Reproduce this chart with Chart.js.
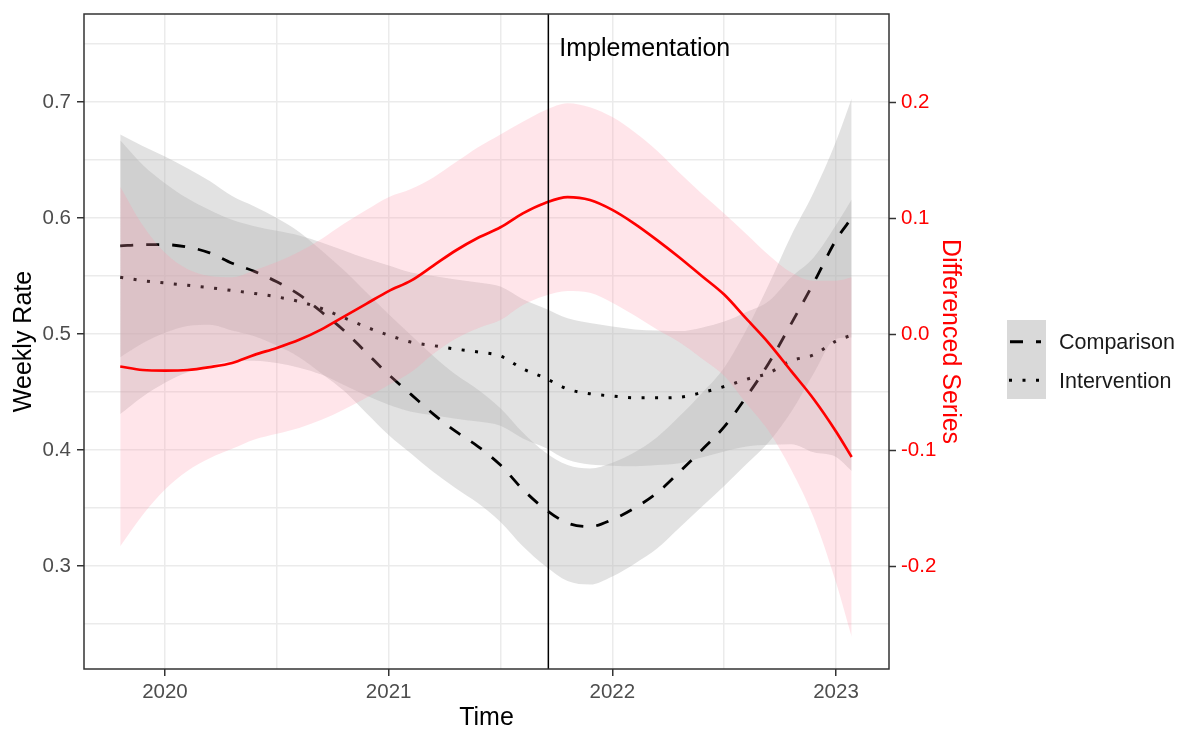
<!DOCTYPE html>
<html>
<head>
<meta charset="utf-8">
<title>Weekly Rate and Differenced Series</title>
<script src="https://cdn.jsdelivr.net/npm/chart.js@4.4.1/dist/chart.umd.min.js"></script>
<style>
  html, body { margin: 0; padding: 0; background: #ffffff; }
  #wrap { width: 1178px; height: 729px; position: relative; }
</style>
</head>
<body>
<div id="wrap"><canvas id="chart" width="1178" height="729"></canvas></div>
<script>
// ---- Smoothed series (decimal years) ----
const years = [2019.8, 2019.9, 2020.0, 2020.1, 2020.2, 2020.3, 2020.4, 2020.5, 2020.6, 2020.7,
               2020.8, 2020.9, 2021.0, 2021.1, 2021.2, 2021.3, 2021.4, 2021.5, 2021.6, 2021.7,
               2021.8, 2021.9, 2022.0, 2022.1, 2022.2, 2022.3, 2022.4, 2022.5, 2022.6, 2022.7,
               2022.8, 2022.9, 2023.0, 2023.07];

const comparisonRate  = [0.576, 0.577, 0.577, 0.575, 0.570, 0.561, 0.554, 0.545, 0.534, 0.519,
                         0.503, 0.484, 0.465, 0.448, 0.431, 0.416, 0.403, 0.387, 0.366, 0.349,
                         0.337, 0.334, 0.340, 0.350, 0.363, 0.381, 0.400, 0.420, 0.446, 0.475,
                         0.509, 0.544, 0.581, 0.600];
const comparisonUpper = [0.672, 0.662, 0.653, 0.643, 0.632, 0.619, 0.610, 0.600, 0.588, 0.572,
                         0.555, 0.536, 0.517, 0.499, 0.481, 0.465, 0.452, 0.436, 0.415, 0.398,
                         0.387, 0.384, 0.389, 0.398, 0.411, 0.429, 0.449, 0.471, 0.504, 0.543,
                         0.585, 0.622, 0.666, 0.703];
const comparisonLower = [0.480, 0.492, 0.501, 0.507, 0.508, 0.503, 0.498, 0.490, 0.480, 0.466,
                         0.451, 0.432, 0.413, 0.397, 0.381, 0.367, 0.354, 0.338, 0.317, 0.300,
                         0.287, 0.284, 0.291, 0.302, 0.315, 0.333, 0.351, 0.369, 0.388, 0.407,
                         0.433, 0.466, 0.496, 0.497];

const interventionRate  = [0.549, 0.546, 0.544, 0.542, 0.540, 0.5375, 0.535, 0.532, 0.528, 0.522,
                           0.514, 0.506, 0.499, 0.493, 0.490, 0.487, 0.4845, 0.481, 0.470, 0.462,
                           0.4525, 0.4485, 0.4465, 0.445, 0.445, 0.4455, 0.4495, 0.4547, 0.461, 0.4665,
                           0.477, 0.482, 0.494, 0.499];
const interventionUpper = [0.667, 0.646, 0.630, 0.617, 0.607, 0.5985, 0.593, 0.589, 0.585, 0.579,
                           0.572, 0.565, 0.559, 0.553, 0.550, 0.547, 0.5445, 0.541, 0.530, 0.522,
                           0.5135, 0.5095, 0.5065, 0.504, 0.503, 0.5025, 0.5055, 0.5107, 0.519, 0.5285,
                           0.549, 0.566, 0.594, 0.616];
const interventionLower = [0.431, 0.446, 0.458, 0.467, 0.473, 0.4765, 0.477, 0.475, 0.471, 0.465,
                           0.456, 0.447, 0.439, 0.433, 0.430, 0.427, 0.4245, 0.421, 0.410, 0.402,
                           0.3915, 0.3875, 0.3865, 0.386, 0.387, 0.3885, 0.3935, 0.3987, 0.403, 0.4045,
                           0.405, 0.398, 0.394, 0.382];

const differenced      = [-0.028, -0.031, -0.0315, -0.031, -0.0285, -0.025, -0.018, -0.012, -0.005, 0.004,
                          0.015, 0.026, 0.037, 0.046, 0.059, 0.072, 0.083, 0.092, 0.104, 0.113,
                          0.118, 0.1155, 0.107, 0.095, 0.081, 0.066, 0.050, 0.034, 0.013, -0.008,
                          -0.032, -0.056, -0.084, -0.106];
const differencedUpper = [0.127, 0.094, 0.070, 0.056, 0.050, 0.049, 0.055, 0.062, 0.071, 0.082,
                          0.095, 0.107, 0.118, 0.125, 0.135, 0.148, 0.161, 0.172, 0.183, 0.193,
                          0.199, 0.1955, 0.187, 0.174, 0.158, 0.139, 0.121, 0.104, 0.086, 0.068,
                          0.053, 0.046, 0.046, 0.049];
const differencedLower = [-0.183, -0.156, -0.134, -0.118, -0.107, -0.099, -0.091, -0.086, -0.081, -0.074,
                          -0.065, -0.055, -0.044, -0.033, -0.017, -0.004, 0.005, 0.012, 0.025, 0.033,
                          0.037, 0.0355, 0.027, 0.016, 0.004, -0.007, -0.021, -0.036, -0.060, -0.084,
                          -0.117, -0.158, -0.214, -0.261];

const implementationYear = 2021.714;

// ---- Axis ticks (major labelled, minor grid only) ----
const yearTicks = [2020, 2021, 2022, 2023];
const yearMinor = [2020.5, 2021.5, 2022.5];
const rateTicks = [0.3, 0.4, 0.5, 0.6, 0.7];
const rateMinor = [0.25, 0.35, 0.45, 0.55, 0.65, 0.75];
const diffTicks = [-0.2, -0.1, 0.0, 0.1, 0.2];
const diffMinor = [-0.25, -0.15, -0.05, 0.05, 0.15, 0.25];

const seriesNames = ['Comparison', 'Intervention'];

// ---- Styling ----
const FONT = "'Liberation Sans', Arial, Helvetica, sans-serif";
const GRID = '#ebebeb';
const FRAME = '#333333';
const RED = '#ff0000';
const GREY_BAND = 'rgba(180,180,180,0.38)';
const PINK_BAND = 'rgba(255,150,170,0.25)';
const DASH = [13, 13];
const DOT = [3, 10.5];

const isIn = (list, v) => list.some(m => Math.abs(m - v) < 1e-9);
const pts = arr => years.map((t, i) => ({ x: t, y: arr[i] }));
const allTicks = (major, minor) => major.concat(minor).sort((a, b) => a - b).map(v => ({ value: v }));
const tickMarkColor = major => c => (c.tick && isIn(major, c.tick.value)) ? FRAME : 'rgba(0,0,0,0)';
// keep the panel edges exactly where the layout padding puts them
const noEdgePadding = s => { s.paddingTop = 0; s.paddingBottom = 0; s.paddingLeft = 0; s.paddingRight = 0; };

const bandStyle = { pointRadius: 0, borderWidth: 0, cubicInterpolationMode: 'monotone' };

const datasets = [
  // 0: differenced series (right axis), on top
  { label: 'Differenced', data: pts(differenced), yAxisID: 'y2', borderColor: RED, borderWidth: 2.7,
    pointRadius: 0, cubicInterpolationMode: 'monotone', fill: false, order: 0 },
  // 1-2: differenced confidence band
  Object.assign({ data: pts(differencedUpper), yAxisID: 'y2', fill: false, order: 1 }, bandStyle),
  Object.assign({ data: pts(differencedLower), yAxisID: 'y2', fill: 1, backgroundColor: PINK_BAND, order: 2 }, bandStyle),
  // 3: intervention (dotted)
  { label: seriesNames[1], data: pts(interventionRate), yAxisID: 'y', borderColor: '#000000', borderWidth: 3,
    borderDash: DOT, pointRadius: 0, cubicInterpolationMode: 'monotone', fill: false, order: 3 },
  // 4: comparison (dashed)
  { label: seriesNames[0], data: pts(comparisonRate), yAxisID: 'y', borderColor: '#000000', borderWidth: 2.8,
    borderDash: DASH, pointRadius: 0, cubicInterpolationMode: 'monotone', fill: false, order: 4 },
  // 5-6: intervention band
  Object.assign({ data: pts(interventionUpper), yAxisID: 'y', fill: false, order: 5 }, bandStyle),
  Object.assign({ data: pts(interventionLower), yAxisID: 'y', fill: 5, backgroundColor: GREY_BAND, order: 6 }, bandStyle),
  // 7-8: comparison band
  Object.assign({ data: pts(comparisonUpper), yAxisID: 'y', fill: false, order: 7 }, bandStyle),
  Object.assign({ data: pts(comparisonLower), yAxisID: 'y', fill: 7, backgroundColor: GREY_BAND, order: 8 }, bandStyle)
];

// Vertical implementation marker, panel frame and linetype legend
const decorations = {
  id: 'decorations',
  afterDatasetsDraw(chart) {
    const { ctx, chartArea: a, scales } = chart;
    const xPix = scales.x.getPixelForValue(implementationYear);
    ctx.save();
    ctx.strokeStyle = '#000000';
    ctx.lineWidth = 1.5;
    ctx.beginPath();
    ctx.moveTo(xPix, a.top);
    ctx.lineTo(xPix, a.bottom);
    ctx.stroke();

    ctx.fillStyle = '#000000';
    ctx.font = '25px ' + FONT;
    ctx.textAlign = 'left';
    ctx.textBaseline = 'middle';
    ctx.fillText('Implementation', xPix + 11, scales.y.getPixelForValue(0.7455));

    ctx.strokeStyle = FRAME;
    ctx.lineWidth = 1.5;
    ctx.strokeRect(a.left, a.top, a.right - a.left, a.bottom - a.top);
    ctx.restore();
  },
  afterDraw(chart) {
    const { ctx } = chart;
    const kx = 1007, ky = 320, kw = 39, kh = 39.5;
    ctx.save();
    ctx.fillStyle = '#d9d9d9';
    ctx.fillRect(kx, ky, kw, kh * 2);

    ctx.strokeStyle = '#000000';
    ctx.lineWidth = 2.8;
    ctx.setLineDash(DASH);
    ctx.beginPath();
    ctx.moveTo(kx + 3, ky + kh / 2 + 2);
    ctx.lineTo(kx + 34, ky + kh / 2 + 2);
    ctx.stroke();

    ctx.lineWidth = 3;
    ctx.setLineDash(DOT);
    ctx.beginPath();
    ctx.moveTo(kx + 2, ky + kh * 1.5 + 1);
    ctx.lineTo(kx + 37, ky + kh * 1.5 + 1);
    ctx.stroke();
    ctx.setLineDash([]);

    ctx.fillStyle = '#1a1a1a';
    ctx.font = '21.5px ' + FONT;
    ctx.textAlign = 'left';
    ctx.textBaseline = 'middle';
    ctx.fillText(seriesNames[0], 1059, ky + kh / 2 + 3);
    ctx.fillText(seriesNames[1], 1059, ky + kh * 1.5 + 3);
    ctx.restore();
  }
};

new Chart(document.getElementById('chart'), {
  type: 'line',
  data: { datasets },
  plugins: [decorations],
  options: {
    responsive: false,
    animation: false,
    devicePixelRatio: 1,
    layout: { padding: { top: 14, right: 209, bottom: 0, left: 0 } },
    plugins: { legend: { display: false }, tooltip: { enabled: false } },
    elements: { line: { tension: 0 } },
    scales: {
      x: {
        type: 'linear', min: 2019.638, max: 2023.237,
        afterBuildTicks: s => { s.ticks = allTicks(yearTicks, yearMinor); },
        afterFit: s => { s.height = 60; noEdgePadding(s); },
        grid: { color: GRID, lineWidth: 1.5, drawTicks: true, tickLength: 7, tickWidth: 1.5,
                tickColor: tickMarkColor(yearTicks) },
        border: { display: false },
        ticks: { padding: 4, color: '#4d4d4d', font: { family: FONT, size: 20.5 }, maxRotation: 0,
                 autoSkip: false, callback: v => isIn(yearTicks, v) ? String(v) : '' },
        title: { display: true, text: 'Time', color: '#000000',
                 font: { family: FONT, size: 25, lineHeight: 0.88 }, padding: { top: 0, bottom: 0 } }
      },
      y: {
        type: 'linear', position: 'left', min: 0.2112, max: 0.7759,
        afterBuildTicks: s => { s.ticks = allTicks(rateTicks, rateMinor); },
        afterFit: s => { s.width = 84; noEdgePadding(s); },
        grid: { color: GRID, lineWidth: 1.5, drawTicks: true, tickLength: 7, tickWidth: 1.5,
                tickColor: tickMarkColor(rateTicks) },
        border: { display: false },
        ticks: { padding: 6, color: '#4d4d4d', font: { family: FONT, size: 20.5 },
                 autoSkip: false, callback: v => isIn(rateTicks, v) ? v.toFixed(1) : '' },
        title: { display: true, text: 'Weekly Rate', color: '#000000',
                 font: { family: FONT, size: 25, lineHeight: 1.2 }, padding: { top: 9, bottom: 0 } }
      },
      y2: {
        type: 'linear', position: 'right', min: -0.2888, max: 0.2759,
        afterBuildTicks: s => { s.ticks = allTicks(diffTicks, diffMinor); },
        afterFit: s => { s.width = 80; noEdgePadding(s); },
        grid: { drawOnChartArea: false, drawTicks: true, tickLength: 7, tickWidth: 1.5,
                tickColor: tickMarkColor(diffTicks) },
        border: { display: false },
        ticks: { padding: 5, color: RED, font: { family: FONT, size: 20.5 },
                 autoSkip: false, callback: v => isIn(diffTicks, v) ? v.toFixed(1) : '' },
        title: { display: true, text: 'Differenced Series', color: RED,
                 font: { family: FONT, size: 25, lineHeight: 1.2 }, padding: { top: 4, bottom: 0 } }
      }
    }
  }
});
</script>
</body>
</html>
